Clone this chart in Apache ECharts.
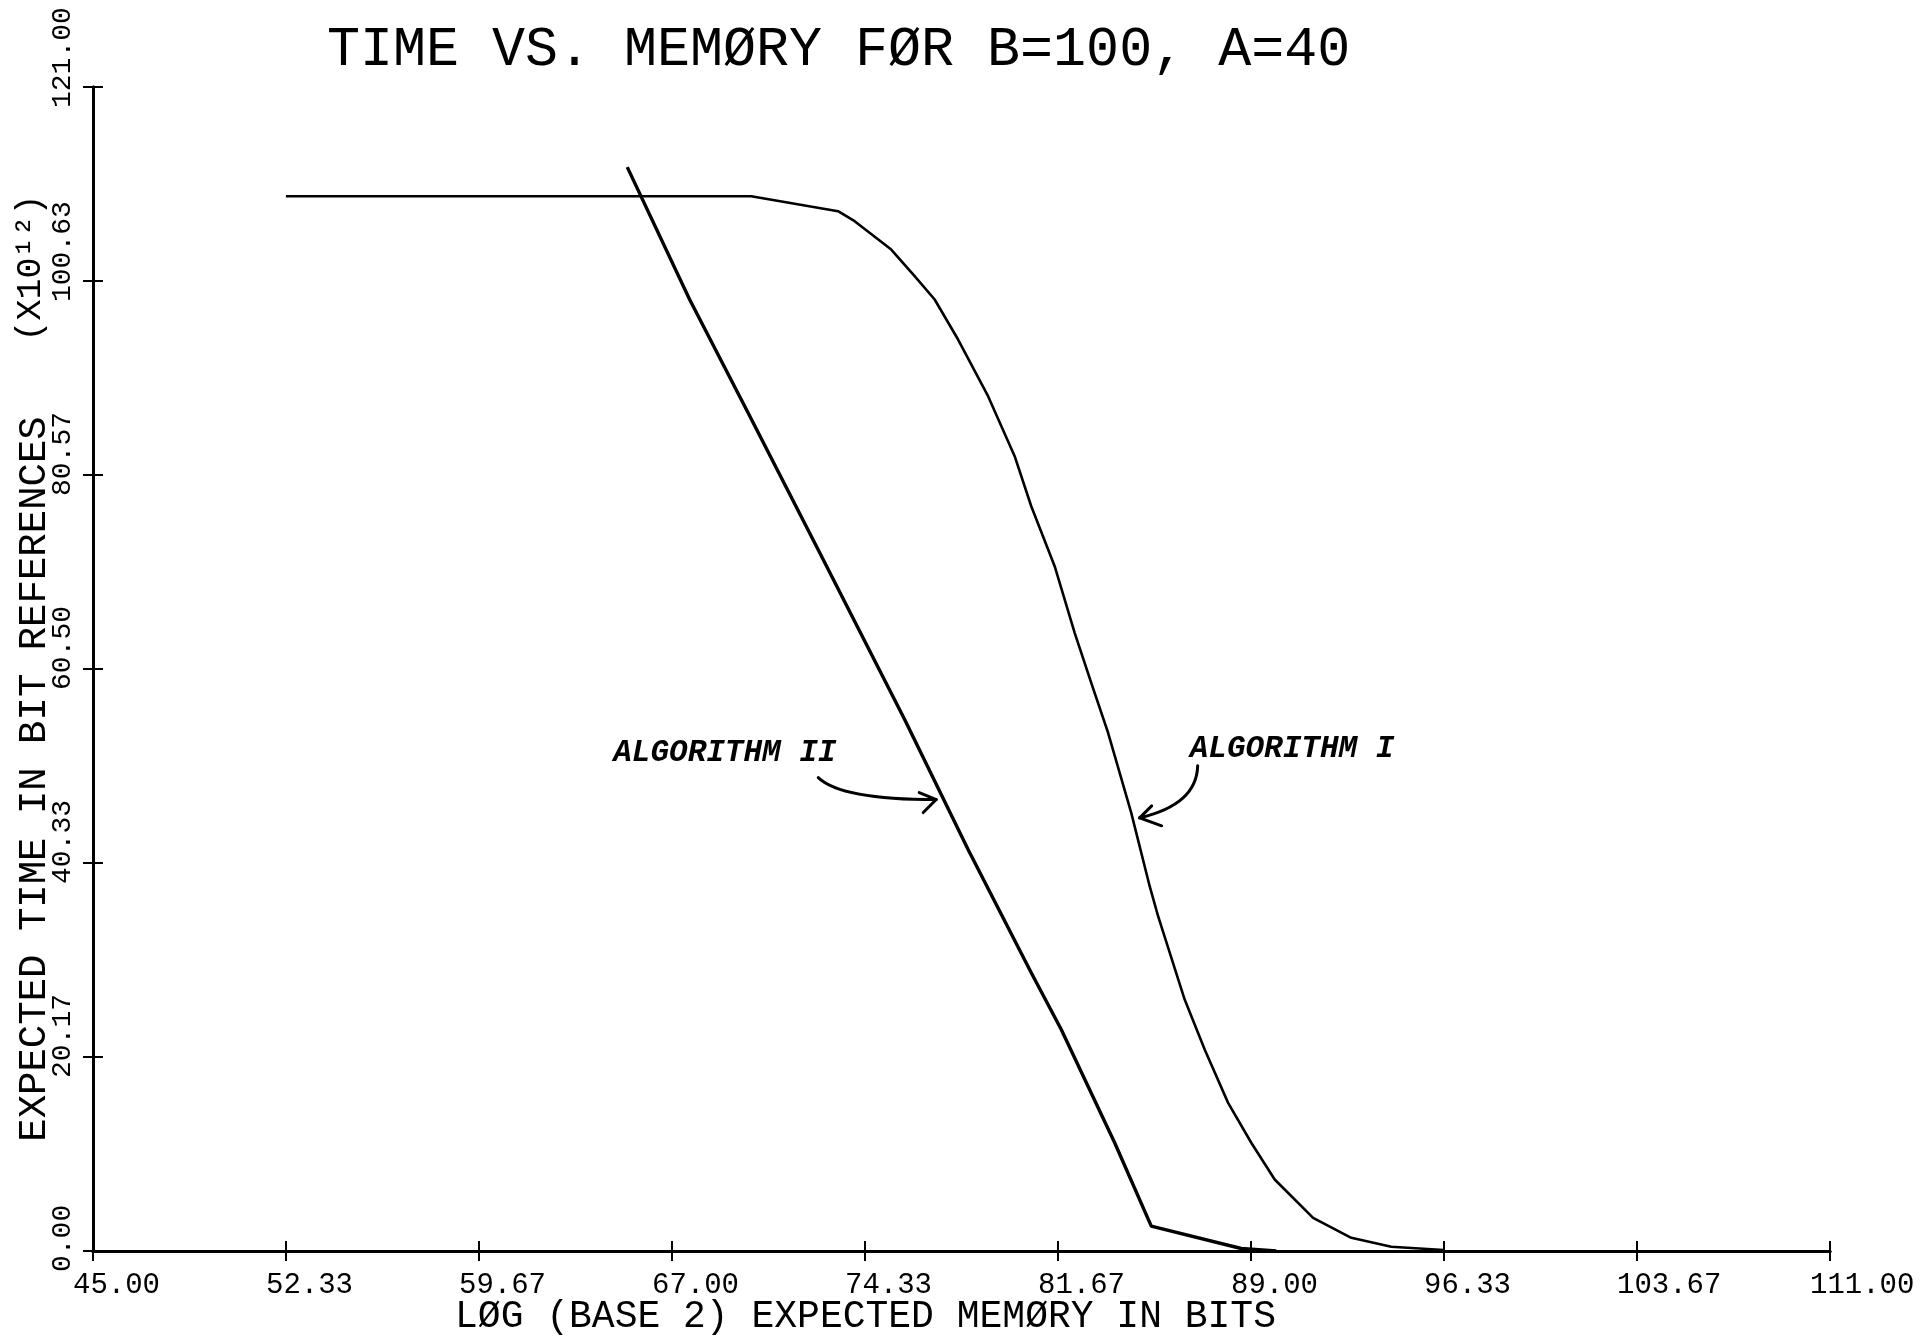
<!DOCTYPE html>
<html><head><meta charset="utf-8">
<script src="https://cdn.jsdelivr.net/npm/echarts@6/dist/echarts.min.js"></script>
<style>html,body{margin:0;padding:0;background:#fff}#c{width:1932px;height:1338px}</style>
</head><body><div id="c"></div>
<script>
// ---------- data ----------
const titleText = 'TIME VS. MEMØRY FØR B=100, A=40';
const xAxisName = 'LØG (BASE 2) EXPECTED MEMØRY IN BITS';
const yAxisName = 'EXPECTED TIME IN BIT REFERENCES';
const yUnitText = '(X10¹²)';

const xTickValues = [45, 52.333, 59.667, 67, 74.333, 81.667, 89, 96.333, 103.667, 111];
const xTickLabels = ['45.00','52.33','59.67','67.00','74.33','81.67','89.00','96.33','103.67','111.00'];
const yTickValues = [0, 20.167, 40.333, 60.5, 80.667, 100.833, 121];
const yTickLabels = ['0.00','20.17','40.33','60.50','80.57','100.63','121.00'];

const alg1Memory = [52.33, 70.01, 73.31, 73.94, 75.33, 76.22, 76.98, 77.87, 79.01, 80.02, 80.65, 81.54, 82.30, 82.93, 83.57, 84.45, 85.15, 85.47, 86.48, 87.24, 88.13, 89.01, 89.90, 91.36, 92.81, 94.33, 96.33];
const alg1Time   = [109.65, 109.65, 108.09, 107.05, 104.1, 101.33, 98.91, 94.75, 88.86, 82.62, 77.42, 71.19, 64.26, 59.06, 53.87, 45.55, 37.92, 34.8, 26.14, 20.95, 15.4, 11.25, 7.43, 3.45, 1.37, 0.44, 0.1];

const alg2Memory = [65.30, 67.67, 69.89, 72.55, 75.84, 78.25, 80.65, 81.79, 83.82, 85.21, 88.63, 89.96];
const alg2Time   = [112.67, 98.91, 87.13, 72.92, 55.25, 41.74, 28.92, 23.03, 11.25, 2.58, 0.26, 0.0];

const seriesNames = ['ALGORITHM I', 'ALGORITHM II'];
// arrow tips in data units (memory, time)
const annotationTipMemory = [84.77, 77.04];
const annotationTipTime   = [45.03, 46.93];

// ---------- chart ----------
const FONT = '"Liberation Mono", "DejaVu Sans Mono", monospace';
const zip = (a, b) => a.map((v, i) => [v, b[i]]);
const nearestLabel = (vals, labels, v) => {
  let best = 0;
  vals.forEach((t, i) => { if (Math.abs(t - v) < Math.abs(vals[best] - v)) best = i; });
  return labels[best];
};

const chart = echarts.init(document.getElementById('c'), null, {renderer: 'canvas'});

const xCommon = {
  type: 'value', min: 45, max: 111, position: 'bottom', gridIndex: 0,
  splitLine: {show: false},
  axisLine: {show: true, onZero: false, lineStyle: {color: '#000', width: 3}},
};
const yCommon = {
  type: 'value', min: 0, max: 121, position: 'left', gridIndex: 0,
  splitLine: {show: false},
  axisLine: {show: true, onZero: false, lineStyle: {color: '#000', width: 3}},
};

chart.setOption({
  backgroundColor: '#ffffff',
  animation: false,
  title: {
    text: titleText, left: 322, top: 18,
    textStyle: {fontFamily: FONT, fontSize: 55, fontWeight: 'normal', color: '#000'}
  },
  grid: {left: 93, right: 102, top: 87, bottom: 87, containLabel: false, outerBoundsMode: 'none'},
  xAxis: [
    Object.assign({}, xCommon, {
      name: xAxisName, nameLocation: 'middle', nameGap: 47, nameMoveOverlap: false,
      nameTextStyle: {fontFamily: FONT, fontSize: 38, color: '#000', padding: [0, 192, 0, 0]},
      axisTick: {show: true, inside: false, length: 10, customValues: xTickValues, lineStyle: {color: '#000', width: 2}},
      axisLabel: {
        show: true, customValues: xTickValues, margin: 20, align: 'left', padding: [0, 0, 0, -20],
        fontFamily: FONT, fontSize: 29, color: '#000',
        formatter: v => nearestLabel(xTickValues, xTickLabels, v)
      }
    }),
    Object.assign({}, xCommon, {
      axisTick: {show: true, inside: true, length: 10, customValues: xTickValues, lineStyle: {color: '#000', width: 2}},
      axisLabel: {show: false}
    })
  ],
  yAxis: [
    Object.assign({}, yCommon, {
      name: yAxisName, nameLocation: 'middle', nameGap: 39, nameMoveOverlap: false,
      nameTextStyle: {fontFamily: FONT, fontSize: 39, color: '#000', padding: [0, 220, 0, 0]},
      axisTick: {show: true, inside: false, length: 10, customValues: yTickValues, lineStyle: {color: '#000', width: 2}},
      axisLabel: {
        show: true, customValues: yTickValues, rotate: 90, margin: 16,
        align: 'left', verticalAlign: 'bottom', padding: [0, 0, 0, -21],
        fontFamily: FONT, fontSize: 28, color: '#000',
        formatter: v => nearestLabel(yTickValues, yTickLabels, v)
      }
    }),
    Object.assign({}, yCommon, {
      axisTick: {show: true, inside: true, length: 10, customValues: yTickValues, lineStyle: {color: '#000', width: 2}},
      axisLabel: {show: false}
    })
  ],
  series: [
    {name: seriesNames[0], type: 'line', xAxisIndex: 0, yAxisIndex: 0, data: zip(alg1Memory, alg1Time),
     showSymbol: false, symbol: 'none', lineStyle: {color: '#000', width: 2.6}, z: 3},
    {name: seriesNames[1], type: 'line', xAxisIndex: 0, yAxisIndex: 0, data: zip(alg2Memory, alg2Time),
     showSymbol: false, symbol: 'none', lineStyle: {color: '#000', width: 3.4}, z: 3}
  ]
});

// ---------- annotations (positioned from data via the axis scales) ----------
const t1 = chart.convertToPixel({xAxisIndex: 0, yAxisIndex: 0}, [annotationTipMemory[0], annotationTipTime[0]]);
const t2 = chart.convertToPixel({xAxisIndex: 0, yAxisIndex: 0}, [annotationTipMemory[1], annotationTipTime[1]]);
const LBL_FONT = 'italic bold 31px "Liberation Mono", "DejaVu Sans Mono", monospace';
const arrowStyle = {stroke: '#000', lineWidth: 3, fill: null, lineCap: 'round', lineJoin: 'round'};

chart.setOption({
  graphic: [
    {type: 'text', x: 31, y: 268, rotation: Math.PI / 2,
     style: {text: yUnitText, font: '35px ' + FONT, fill: '#000', textAlign: 'center', textVerticalAlign: 'middle'}},
    // Algorithm I
    {type: 'text', x: t1[0] + 50, y: t1[1] - 69,
     style: {text: seriesNames[0], font: LBL_FONT, fill: '#000', textAlign: 'left', textVerticalAlign: 'middle'}},
    {type: 'bezierCurve',
     shape: {x1: t1[0] + 58, y1: t1[1] - 52, cpx1: t1[0] + 57, cpy1: t1[1] - 13, x2: t1[0], y2: t1[1]},
     style: arrowStyle},
    {type: 'polyline',
     shape: {points: [[t1[0] + 12, t1[1] - 12], [t1[0], t1[1]], [t1[0] + 22, t1[1] + 8]]},
     style: arrowStyle},
    // Algorithm II
    {type: 'text', x: t2[0] - 323, y: t2[1] - 46,
     style: {text: seriesNames[1], font: LBL_FONT, fill: '#000', textAlign: 'left', textVerticalAlign: 'middle'}},
    {type: 'bezierCurve',
     shape: {x1: t2[0] - 118, y1: t2[1] - 22, cpx1: t2[0] - 95, cpy1: t2[1], x2: t2[0], y2: t2[1]},
     style: arrowStyle},
    {type: 'polyline',
     shape: {points: [[t2[0] - 17, t2[1] - 7], [t2[0], t2[1]], [t2[0] - 13, t2[1] + 13]]},
     style: arrowStyle}
  ]
});
</script></body></html>
